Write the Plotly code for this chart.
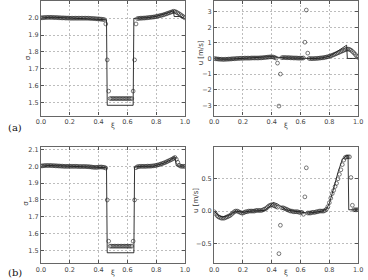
import plotly.graph_objects as go

# grid of the numerical solution (xi = i/100)
xi_num = [i / 100 for i in range(101)]

# ---- panel (a) ----
sigma_a_num = [
    2.002, 2.003, 2.004, 2.004, 2.005, 2.005, 2.005, 2.005, 2.005, 2.004, 2.004,
    2.004, 2.003, 2.003, 2.002, 2.002, 2.002, 2.001, 2.001, 2.001, 2.000,
    2.000, 2.000, 2.000, 2.000, 2.000, 2.000, 2.000, 2.000, 2.000, 2.000,
    2.000, 2.000, 2.000, 1.999, 1.999, 1.998, 1.998, 1.997, 1.996, 1.996,
    1.995, 1.994, 1.993, 1.992,
    1.966, 1.753, 1.568,
    1.524, 1.524, 1.524, 1.524, 1.524, 1.524, 1.524, 1.524,
    1.524, 1.524, 1.524, 1.524, 1.524, 1.524, 1.524, 1.524,
    1.568, 1.753, 1.966,
    1.998, 1.999, 2.000, 2.000, 2.001, 2.001, 2.002, 2.003, 2.004,
    2.005, 2.006, 2.007, 2.008, 2.010, 2.012, 2.014, 2.016, 2.018, 2.020,
    2.023, 2.026, 2.029, 2.032, 2.035, 2.038, 2.041,
    2.040, 2.036, 2.031, 2.026, 2.020, 2.014, 2.008, 2.002,
]
sigma_a_ref_x = [0, 0.05, 0.1, 0.2, 0.3, 0.4, 0.44, 0.455, 0.46, 0.64, 0.645,
                 0.7, 0.75, 0.8, 0.85, 0.88, 0.92, 0.925, 0.96, 1.0]
sigma_a_ref_y = [2.0, 2.005, 2.005, 2.001, 2.0, 1.996, 1.993, 1.991, 1.484, 1.484, 1.999,
                 2.0, 2.004, 2.011, 2.022, 2.031, 2.045, 2.01, 2.01, 1.998]

u_a_num = [
    0.00, -0.02, -0.03, -0.04, -0.05, -0.05, -0.06, -0.06, -0.05, -0.05, -0.04,
    -0.04, -0.03, -0.02, -0.02, -0.01, 0.00, 0.00, 0.01, 0.01, 0.01,
    0.02, 0.02, 0.02, 0.02, 0.02, 0.03, 0.03, 0.03, 0.03, 0.03,
    0.03, 0.04, 0.04, 0.05, 0.06, 0.07, 0.08, 0.09, 0.10, 0.10,
    0.09, 0.06, 0.02, -0.30,
    -3.05, -1.00, 0.05,
    0.06, 0.06, 0.05, 0.05, 0.05, 0.04, 0.04, 0.03, 0.03, 0.03, 0.02, 0.02, 0.02, 0.02, 0.03,
    1.04, 3.10, 0.34, 0.00,
    -0.01, -0.01, -0.01, 0.00, 0.00, 0.01, 0.02, 0.03, 0.04,
    0.05, 0.07, 0.09, 0.11, 0.14, 0.17, 0.20, 0.24, 0.28, 0.32,
    0.36, 0.40, 0.44, 0.48, 0.52, 0.56, 0.59,
    0.60, 0.58, 0.53, 0.45, 0.36, 0.26, 0.15, 0.06,
]
u_a_ref_x = [0, 0.05, 0.1, 0.15, 0.2, 0.3, 0.35, 0.4, 0.43, 0.46, 0.5, 0.6, 0.63,
             0.66, 0.7, 0.75, 0.8, 0.85, 0.88, 0.9, 0.92, 0.925, 0.985, 1.0]
u_a_ref_y = [0, -0.05, -0.05, -0.02, 0.01, 0.03, 0.06, 0.12, 0.08, 0.05, 0.04, 0.02, 0.02,
             0.0, -0.01, 0.04, 0.14, 0.42, 0.62, 0.75, 0.85, 0.0, 0.0, 0.05]

# ---- panel (b) ----
sigma_b_num = [
    2.002, 2.003, 2.004, 2.005, 2.005, 2.005, 2.005, 2.005, 2.004, 2.004, 2.003,
    2.003, 2.002, 2.002, 2.001, 2.001, 2.000, 2.000, 2.000, 2.000, 2.000,
    2.000, 2.000, 2.000, 2.000, 2.000, 1.999, 1.999, 1.999, 1.999, 1.999,
    1.999, 1.998, 1.998, 1.997, 1.996, 1.995, 1.994, 1.994, 1.994, 1.995,
    1.996, 1.996, 1.995, 1.994,
    1.990, 1.800, 1.555,
    1.525, 1.525, 1.525, 1.525, 1.525, 1.525, 1.525, 1.525,
    1.525, 1.525, 1.525, 1.525, 1.525, 1.525, 1.525, 1.525,
    1.555, 1.800, 1.992,
    1.998, 1.999, 2.000, 2.000, 2.000, 2.000, 2.000, 2.001, 2.001,
    2.001, 2.002, 2.003, 2.004, 2.006, 2.008, 2.010, 2.013, 2.016, 2.019,
    2.022, 2.026, 2.030, 2.034, 2.038, 2.042, 2.048,
    2.053, 2.042, 2.024, 2.006, 2.001, 2.000, 2.000, 2.000,
]
sigma_b_ref_x = [0, 0.05, 0.1, 0.2, 0.3, 0.38, 0.42, 0.455, 0.46, 0.645, 0.65,
                 0.7, 0.78, 0.85, 0.9, 0.93, 0.94, 1.0]
sigma_b_ref_y = [2.0, 2.005, 2.004, 2.0, 1.999, 1.994, 1.995, 1.992, 1.486, 1.486, 1.996,
                 2.0, 2.001, 2.018, 2.038, 2.057, 2.003, 2.0]

u_b_num = [
    -0.01, -0.04, -0.07, -0.09, -0.10, -0.11, -0.11, -0.11, -0.10, -0.09, -0.08,
    -0.07, -0.05, -0.03, -0.01, 0.00, 0.00, -0.01, -0.02, -0.03, -0.03,
    -0.02, -0.01, -0.01, 0.00, 0.00, 0.00, 0.00, 0.00, 0.01, 0.01,
    0.01, 0.01, 0.01, 0.02, 0.03, 0.04, 0.06, 0.08, 0.09, 0.10,
    0.09, 0.08, 0.07, 0.06,
    -0.66, -0.22, 0.05,
    0.05, 0.04, 0.03, 0.02, 0.01, 0.00, 0.00, -0.01, -0.01, -0.01, -0.01, -0.02, -0.02, -0.02,
    -0.05, 0.22, 0.67,
    -0.03, -0.03, -0.03, -0.02, -0.02, -0.02, -0.01, -0.01, 0.00, 0.00, 0.00,
    0.00, 0.01, 0.03, 0.07, 0.13, 0.20, 0.27, 0.32, 0.38, 0.43,
    0.50, 0.57, 0.64, 0.72, 0.79, 0.83, 0.84,
    0.84, 0.84, 0.52, 0.09, 0.02, 0.02, 0.02, 0.02,
]
u_b_ref_x = [0, 0.03, 0.06, 0.1, 0.15, 0.2, 0.25, 0.35, 0.38, 0.41, 0.44, 0.47, 0.5,
             0.55, 0.6, 0.65, 0.7, 0.75, 0.78, 0.8, 0.83, 0.86, 0.89, 0.92, 0.93, 0.935, 1.0]
u_b_ref_y = [0, -0.07, -0.09, -0.07, 0.0, -0.02, 0.0, 0.01, 0.06, 0.135, 0.11, 0.06, 0.02,
             0.0, -0.01, -0.03, -0.02, 0.0, 0.03, 0.12, 0.35, 0.6, 0.8, 0.86, 0.86, 0.02, 0.02]

x_ticks = [0.0, 0.2, 0.4, 0.6, 0.8, 1.0]
sigma_ticks = [1.5, 1.6, 1.7, 1.8, 1.9, 2.0, 2.1]
u_a_ticks = [-3, -2, -1, 0, 1, 2, 3]
u_b_ticks = [-0.5, 0.0, 0.5]

W, H = 368, 280
fig = go.Figure()

panels = [
    ("", sigma_a_ref_x, sigma_a_ref_y, sigma_a_num),
    ("2", u_a_ref_x, u_a_ref_y, u_a_num),
    ("3", sigma_b_ref_x, sigma_b_ref_y, sigma_b_num),
    ("4", u_b_ref_x, u_b_ref_y, u_b_num),
]
for suf, rx, ry, ny in panels:
    fig.add_trace(go.Scatter(x=rx, y=ry, mode="lines",
                             line=dict(color="black", width=0.8),
                             xaxis="x" + suf, yaxis="y" + suf, showlegend=False))
    fig.add_trace(go.Scatter(x=xi_num, y=ny, mode="markers",
                             marker=dict(symbol="circle-open", size=3.8,
                                         color="#222", line=dict(width=0.6)),
                             xaxis="x" + suf, yaxis="y" + suf, showlegend=False))

tickfont = dict(family="DejaVu Sans", size=6.5, color="#444")


def common():
    return dict(ticks="inside", ticklen=3, tickcolor="#555",
                showline=True, linecolor="#666", linewidth=1.2, mirror="ticks",
                showgrid=True, gridcolor="#bdbdbd", griddash="2px,2px", gridwidth=0.7,
                zeroline=False, tickfont=tickfont)


def xa(domain, anchor):
    return dict(domain=domain, anchor=anchor, range=[0, 1], tickvals=x_ticks,
                tickformat=".1f", **common())


def ya(domain, anchor, rng, tv, fmt):
    return dict(domain=domain, anchor=anchor, range=rng, tickvals=tv,
                tickformat=fmt, **common())


left = [37 / W, 185 / W]
right = [215 / W, 363 / W]
top = [1 - 115 / H, 1.0]
bot = [1 - 263.3 / H, 1 - 146.7 / H]


def ann(text, x, y, size=7, angle=0, family="DejaVu Sans"):
    return dict(text=text, x=x / W, y=1 - y / H, xref="paper", yref="paper",
                xanchor="center", yanchor="middle", showarrow=False, textangle=angle,
                font=dict(family=family, size=size, color="#333"))


annotations = [
    ann("ξ", 111, 125), ann("ξ", 289, 125),
    ann("ξ", 111, 273), ann("ξ", 289, 273),
    ann("σ", 23, 57, angle=-90), ann("σ", 22, 203, angle=-90),
    ann("u [m/s]", 201, 52, angle=-90), ann("u [m/s]", 197, 200, angle=-90),
    dict(text="(a)", x=1 / W, y=1 - 127 / H, xref="paper", yref="paper",
         xanchor="left", yanchor="middle", showarrow=False,
         font=dict(family="DejaVu Serif", size=10, color="#111")),
    dict(text="(b)", x=1 / W, y=1 - 272 / H, xref="paper", yref="paper",
         xanchor="left", yanchor="middle", showarrow=False,
         font=dict(family="DejaVu Serif", size=10, color="#111")),
]

fig.update_layout(
    width=W, height=H, margin=dict(l=0, r=0, t=0, b=0),
    paper_bgcolor="white", plot_bgcolor="white",
    xaxis=xa(left, "y"), yaxis=ya(top, "x", [1.423, 2.102], sigma_ticks, ".1f"),
    xaxis2=xa(right, "y2"), yaxis2=ya(top, "x2", [-3.66, 3.68], u_a_ticks, "d"),
    xaxis3=xa(left, "y3"), yaxis3=ya(bot, "x3", [1.423, 2.114], sigma_ticks, ".1f"),
    xaxis4=xa(right, "y4"), yaxis4=ya(bot, "x4", [-0.81, 0.99], u_b_ticks, ".1f"),
    annotations=annotations,
)

fig.write_html("out.html")
